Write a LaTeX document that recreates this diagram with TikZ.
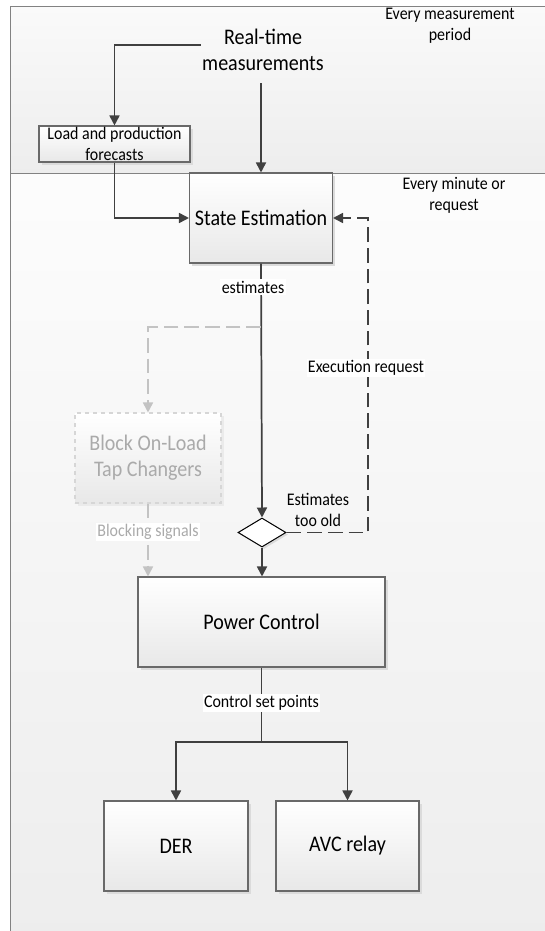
\documentclass[tikz,border=0pt]{standalone}
\usepackage{fontspec}
\setmainfont[FakeStretch=0.9]{Carlito}
\usepackage{xcolor}
\usetikzlibrary{arrows.meta,shapes.geometric,shadows}

\definecolor{flowDark}{RGB}{64,64,64}
\definecolor{flowGrey}{RGB}{195,195,195}
\definecolor{boxLine}{RGB}{105,105,105}
\definecolor{laneLine}{RGB}{130,130,130}
\definecolor{fadeText}{RGB}{170,170,170}
\newcommand{\bigfnt}{\fontsize{16.7}{19.5}\selectfont}
\newcommand{\smallfnt}{\fontsize{13.3}{15.75}\selectfont}

\begin{document}
\begin{tikzpicture}[x=0.75pt,y=0.75pt,yscale=-1,xscale=1,
  box/.style={draw=boxLine, line width=0.8pt, top color=white, bottom color=black!9,
    drop shadow={shadow xshift=2pt, shadow yshift=-2pt, fill=black!14, opacity=1},
    minimum height=67.5pt, inner sep=0pt, align=center, font=\bigfnt},
  fadebox/.style={box, draw=black!16, dashed, text=fadeText,
    drop shadow={shadow xshift=2pt, shadow yshift=-2pt, fill=black!8, opacity=1}},
  decision/.style={diamond, draw=black, line width=0.75pt, fill=white, inner sep=0pt,
    minimum width=36pt, minimum height=21.75pt,
    drop shadow={shadow xshift=1.5pt, shadow yshift=-1.5pt, fill=black!14, opacity=1}},
  arr/.style={draw=flowDark, line width=1.3pt, -{Triangle[length=7.5pt,width=7.5pt]}},
  darr/.style={arr, dash pattern=on 11pt off 4.5pt},
  garr/.style={draw=flowGrey, line width=1.3pt, dash pattern=on 11pt off 4.5pt,
    -{Triangle[length=7.5pt,width=7.5pt]}},
  lbl/.style={font=\smallfnt, fill=white, inner sep=1pt, align=center},
  note/.style={font=\smallfnt, inner sep=0.75pt, align=center}]
\useasboundingbox (0,0) rectangle (545,931);
\clip (0,0) rectangle (545,931);

%Swimlanes
\shade [top color=black!2, bottom color=black!7] (10,7) rectangle (560,173);
\shade [top color=black!1, bottom color=black!7] (10,173) rectangle (560,940);
\draw [draw=laneLine, line width=0.75pt] (560,7) -- (10,7) -- (10,940);
\draw [draw=laneLine, line width=0.75pt] (10,173) -- (560,173);

% Text Node
\node (evmp) at (450,26) [note] {Every measurement\\period};
% Text Node
\node (evmr) at (454,195) [note] {Every minute or\\request};

%Blocks
\node (rt) at (263,50) [font=\bigfnt, align=center, inner sep=1pt] {Real-time\\measurements};
\node (lpf) at (114.5,144) [box, font=\smallfnt, minimum width=113.25pt, minimum height=27pt] {Load and production\\forecasts};
\node (se) at (261,218) [box, minimum width=107.25pt] {State Estimation};
\node (blk) at (148,458) [fadebox, minimum width=109.5pt] {Block On-Load\\Tap Changers};
\node (chk) at (262,532.5) [decision] {};
\node (pc) at (261.5,622) [box, minimum width=185.25pt] {Power Control};
\node (der) at (176,846) [box, minimum width=108pt] {DER};
\node (avc) at (347.5,846) [box, minimum width=107.25pt] {AVC relay};

\coordinate (fork) at (261,327);
\coordinate (back) at (368,218);
\coordinate (split) at (261.5,742);

%Connectors
\draw [arr] ([yshift=-3.75pt]rt.west) -| (lpf.north);
\draw [arr] ([yshift=8pt]rt.south -| se.north) -- (se.north);
\draw [arr] (lpf.south) |- (se.west);
\draw [arr] (se.south) -- (chk.north);
\draw [garr] (fork) -| (blk.north);
\draw [garr] (blk.south) -- (blk.south |- pc.north);
\draw [darr] (chk.east) -| (back) -- (se.east);
\draw [arr] (chk.south) -- (chk.south |- pc.north);
\draw [draw=flowDark, line width=1.3pt] (pc.south) -- (split);
\draw [arr] (split) -| (der.north);
\draw [arr] (split) -| (avc.north);

% Text Node
\node (estl) at (253,287) [lbl] {estimates};
% Text Node
\node (exrq) at (366,368) [lbl] {Execution request};
% Text Node
\node (eold) at (318,510) [note] {Estimates\\too old};
% Text Node
\node (bsig) at (148,532) [lbl, text=fadeText] {Blocking signals};
% Text Node
\node (csp) at (261.5,703) [lbl] {Control set points};
\end{tikzpicture}
\end{document}
